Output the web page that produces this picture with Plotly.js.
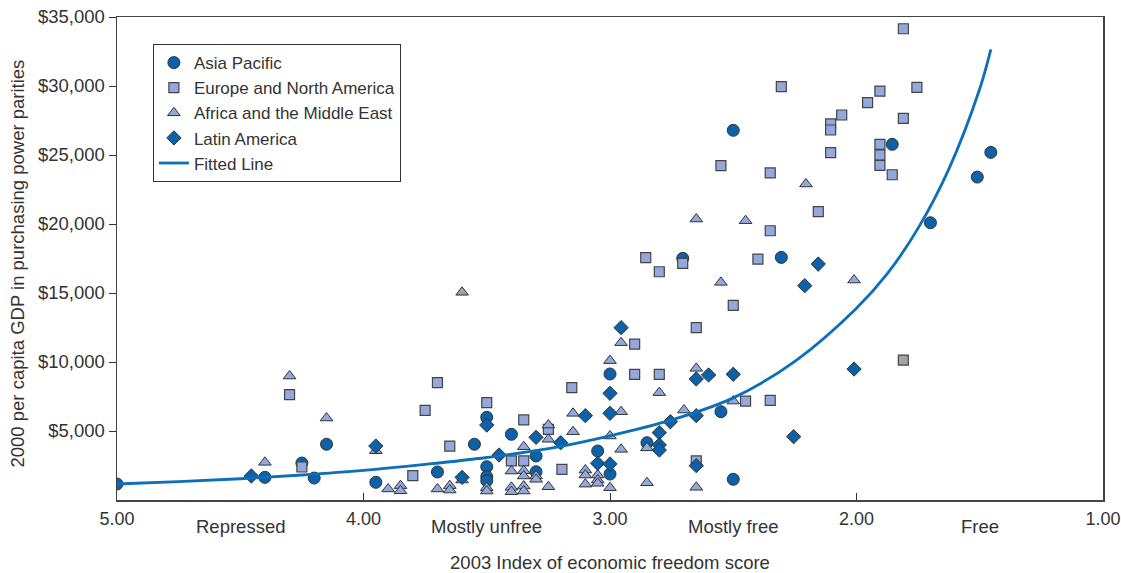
<!DOCTYPE html>
<html>
<head>
<meta charset="utf-8">
<script src="https://cdn.plot.ly/plotly-3.0.1.min.js"></script>
<style>html,body{margin:0;padding:0;background:#fff;}#chart{width:1121px;height:573px;}</style>
</head>
<body>
<div id="chart"></div>
<script>
// ---- data ----
const asiaX = [5.00,4.40,4.25,4.20,4.15,3.95,3.70,3.55,3.50,3.50,3.50,3.50,3.40,3.30,3.30,3.05,3.00,3.00,2.85,2.705,2.55,2.50,2.50,2.305,1.855,1.70,1.51,1.455];
const asiaY = [1160,1640,2680,1590,4040,1280,2030,4040,5990,2410,1690,1400,4760,3190,2050,3550,9130,1880,4150,17510,6400,26790,1500,17580,25770,20090,23400,25190];

const europeX = [4.25,4.30,3.75,3.70,3.80,3.65,3.50,3.40,3.35,3.35,3.25,3.195,3.155,2.90,2.90,2.855,2.80,2.80,2.705,2.65,2.65,2.55,2.50,2.45,2.40,2.35,2.35,2.35,2.305,2.155,2.105,2.105,2.105,2.06,1.955,1.905,1.905,1.905,1.905,1.855,1.81,1.81,1.755];
const europeY = [2390,7630,6500,8500,1760,3910,7050,2830,5800,2830,5120,2220,8140,9110,11300,17560,16540,9110,17150,12490,2830,24230,14110,7170,17460,23700,19510,7220,29950,20890,27250,26810,25170,27900,28790,29630,25770,25000,24250,23570,34150,27650,29900];
const europeGrayX = [1.81];
const europeGrayY = [10140];

const africaX = [4.40,4.30,4.15,3.95,3.90,3.85,3.85,3.70,3.65,3.65,3.60,3.50,3.50,3.40,3.40,3.40,3.35,3.35,3.35,3.35,3.35,3.30,3.30,3.25,3.25,3.25,3.15,3.15,3.10,3.10,3.10,3.05,3.05,3.05,3.00,3.00,3.00,2.955,2.955,2.955,2.85,2.85,2.80,2.70,2.65,2.65,2.65,2.55,2.50,2.45,2.205,2.01];
const africaY = [2730,8985,5940,3570,800,1040,670,800,1040,720,1450,890,650,2100,920,600,3860,2120,1740,1010,650,1740,1500,5430,4400,960,6280,4950,2170,1810,1150,1810,1450,1210,10100,4640,890,11400,6400,3670,3780,1250,7780,6520,9540,920,20360,15770,7170,20240,22900,15940];
const africaGrayX = [3.60];
const africaGrayY = [15050];

const latinX = [4.455,3.95,3.60,3.50,3.45,3.30,3.20,3.10,3.05,3.00,3.00,3.00,2.955,2.80,2.80,2.80,2.755,2.65,2.65,2.65,2.60,2.50,2.255,2.21,2.155,2.01];
const latinY = [1740,3910,1640,5430,3260,4540,4150,6110,2660,6280,7730,2610,12490,4880,3990,3620,5670,8770,6110,2490,9060,9110,4590,15530,17100,9490];

const fitX = [5.00,4.75,4.50,4.25,4.00,3.75,3.50,3.25,3.00,2.75,2.50,2.25,2.00,1.875,1.75,1.625,1.50,1.455];
const fitY = [1160,1330,1540,1810,2140,2580,3080,3720,4650,5800,7400,10050,13900,16400,19700,24000,29800,32650];

const xTickVals = [5,4,3,2,1];
const xTickText = ["5.00","4.00","3.00","2.00","1.00"];
const yTickVals = [5000,10000,15000,20000,25000,30000,35000];
const yTickText = ["$5,000","$10,000","$15,000","$20,000","$25,000","$30,000","$35,000"];
const zoneX = [4.5,3.5,2.5,1.5];
const zoneText = ["Repressed","Mostly unfree","Mostly free","Free"];

// ---- styles ----
const dark = '#0b62a8';
const light = '#93a9dc';
const gray = '#a3a3a3';
const edge = {color:'#333333', width:1};
const FS = 18.5;

const traces = [
  {x:asiaX, y:asiaY, mode:'markers', type:'scatter', name:'Asia Pacific',
   marker:{symbol:'circle', size:12, color:dark, line:edge}},
  {x:europeX, y:europeY, mode:'markers', type:'scatter', name:'Europe and North America',
   marker:{symbol:'square', size:10, color:light, line:{color:'#444', width:1.2}}},
  {x:europeGrayX, y:europeGrayY, mode:'markers', type:'scatter', showlegend:false, hoverinfo:'skip',
   marker:{symbol:'square', size:10, color:gray, line:{color:'#444', width:1.2}}},
  {x:africaX, y:africaY, mode:'markers', type:'scatter', name:'Africa and the Middle East',
   marker:{symbol:'triangle-up', size:11, color:light, line:edge}},
  {x:africaGrayX, y:africaGrayY, mode:'markers', type:'scatter', showlegend:false, hoverinfo:'skip',
   marker:{symbol:'triangle-up', size:11, color:gray, line:edge}},
  {x:latinX, y:latinY, mode:'markers', type:'scatter', name:'Latin America',
   marker:{symbol:'diamond', size:11, color:dark, line:edge}},
  {x:fitX, y:fitY, mode:'lines', type:'scatter', name:'Fitted Line',
   line:{color:'#0b6fba', width:2.8, shape:'spline', smoothing:1}}
];

const annotations = zoneX.map((v,i)=>({
  x:v, y:-0.054, xref:'x', yref:'paper', text:zoneText[i], showarrow:false,
  xanchor:'center', yanchor:'middle', font:{size:FS, color:'#333'}
}));
annotations.push({
  x:-0.1012, y:0.49, xref:'paper', yref:'paper', text:'2000 per capita GDP in purchasing power parities',
  textangle:-90, showarrow:false, xanchor:'center', yanchor:'middle', font:{size:FS, color:'#333'}
});

const layout = {
  width:1121, height:573,
  margin:{l:117, r:18, t:17, b:73},
  paper_bgcolor:'#fff', plot_bgcolor:'#fff',
  font:{family:'"Liberation Sans", Arial, sans-serif', size:FS, color:'#333'},
  showlegend:true,
  legend:{x:0.0364, y:0.944, xanchor:'left', yanchor:'top', bgcolor:'#fff',
          bordercolor:'#333', borderwidth:1, font:{size:17, color:'#333'},
          tracegroupgap:0, itemwidth:30},
  xaxis:{range:[5,1], tickvals:xTickVals, ticktext:xTickText, ticks:'inside', ticklen:7,
         tickcolor:'#333', showline:true, linecolor:'#444', linewidth:1.5, mirror:true,
         showgrid:false, zeroline:false, ticklabelstandoff:2, ticklabeloverflow:'allow',
         tickfont:{size:18, color:'#333'},
         title:{text:'2003 Index of economic freedom score', standoff:30, font:{size:FS, color:'#333'}}},
  yaxis:{range:[0,35000], tickvals:yTickVals, ticktext:yTickText, ticks:'outside', ticklen:7,
         tickcolor:'#333', showline:true, linecolor:'#444', linewidth:1.5, mirror:true,
         showgrid:false, zeroline:false, tickfont:{size:FS, color:'#333'}},
  annotations:annotations
};

Plotly.newPlot('chart', traces, layout, {displayModeBar:false, staticPlot:true});
</script>
</body>
</html>
